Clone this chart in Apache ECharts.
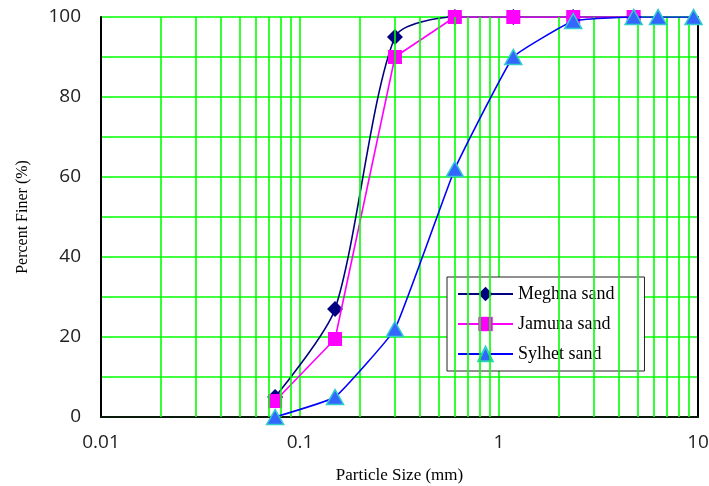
<!DOCTYPE html>
<html>
<head>
<meta charset="utf-8">
<script src="https://cdn.jsdelivr.net/npm/echarts@6/dist/echarts.min.js"></script>
<style>
html,body{margin:0;padding:0;background:#fff;}
#chart{width:709px;height:486px;}
</style>
</head>
<body>
<div id="chart"></div>
<script>
// Sieve sizes (mm) and percent finer
const sieveSizes = [0.075, 0.15, 0.3, 0.6, 1.18, 2.36, 4.75];
const meghna = [5, 27, 95, 100, 100, 100, 100];
const jamuna = [4, 19.5, 90, 100, 100, 100, 100];
const sylhetSizes = [0.075, 0.15, 0.3, 0.6, 1.18, 2.36, 4.75, 6.3, 9.5];
const sylhet = [0, 5, 22, 62, 90, 99, 100, 100, 100];
const seriesNames = ['Meghna sand', 'Jamuna sand', 'Sylhet sand'];
const xTickLabels = ['0.01', '0.1', '1', '10'];
const yTickLabels = ['0', '20', '40', '60', '80', '100'];
const minorMultipliers = [2, 3, 4, 5, 6, 7, 8, 9];
const decades = [0.01, 0.1, 1];

const pair = (xs, ys) => xs.map((x, i) => [x, ys[i]]);
const minorLines = [];
decades.forEach(d => minorMultipliers.forEach(m => minorLines.push({ xAxis: +(d * m).toPrecision(6) })));

const chart = echarts.init(document.getElementById('chart'), null, { renderer: 'canvas' });
const green = '#00FF00';
chart.setOption({
  animation: false,
  backgroundColor: '#ffffff',
  grid: { left: 101, right: 11, top: 17, bottom: 69, containLabel: false, outerBoundsMode: 'none' },
  legend: {
    data: seriesNames,
    orient: 'vertical',
    left: 447,
    top: 277,
    padding: [8, 30, 8, 10],
    itemWidth: 55,
    itemHeight: 18,
    itemGap: 12,
    backgroundColor: '#ffffff',
    borderColor: '#222',
    borderWidth: 1,
    textStyle: { fontFamily: 'Liberation Serif', fontSize: 18, color: '#000' }
  },
  xAxis: {
    type: 'log',
    logBase: 10,
    min: 0.01,
    max: 10,
    name: 'Particle Size (mm)',
    nameLocation: 'middle',
    nameGap: 50,
    nameTextStyle: { fontFamily: 'Liberation Serif', fontSize: 17, color: '#000' },
    axisLine: { show: true, onZero: false, lineStyle: { color: '#0a1a0a', width: 2 } },
    axisTick: { show: false },
    axisLabel: {
      margin: 16,
      fontFamily: 'Open Sans',
      fontSize: 19,
      color: '#222',
      showMinLabel: true,
      showMaxLabel: true,
      formatter: v => {
        const idx = Math.round(Math.log10(v) + 2);
        return xTickLabels[idx] !== undefined ? xTickLabels[idx] : '';
      }
    },
    splitLine: { show: true, lineStyle: { color: green, width: 1.6 } }
  },
  yAxis: [{
    type: 'value',
    min: 0,
    max: 100,
    interval: 10,
    name: 'Percent Finer (%)',
    nameLocation: 'middle',
    nameGap: 70,
    nameTextStyle: { fontFamily: 'Liberation Serif', fontSize: 16, color: '#000' },
    axisLine: { show: true, lineStyle: { color: '#000', width: 2 } },
    axisTick: { show: false },
    axisLabel: {
      margin: 20,
      fontFamily: 'Open Sans',
      fontSize: 19,
      color: '#222',
      formatter: v => (yTickLabels.indexOf(String(v)) >= 0 ? String(v) : '')
    },
    splitLine: { show: true, lineStyle: { color: green, width: 1.6 } }
  }, {
    type: 'value',
    position: 'right',
    min: 0,
    max: 100,
    axisLine: { show: true, lineStyle: { color: '#000', width: 2 } },
    axisTick: { show: false },
    axisLabel: { show: false },
    splitLine: { show: false }
  }],
  series: [
    {
      name: 'gridMinor',
      type: 'line',
      z: 1,
      data: [[0.01, 0]],
      showSymbol: false,
      silent: true,
      lineStyle: { opacity: 0 },
      markLine: {
        silent: true,
        symbol: ['none', 'none'],
        label: { show: false },
        lineStyle: { color: green, width: 1.6, type: 'solid' },
        data: minorLines
      }
    },
    {
      name: seriesNames[0],
      type: 'line',
      z: 3,
      data: pair(sieveSizes, meghna),
      smooth: 0.25,
      symbol: 'diamond',
      symbolSize: 16,
      itemStyle: { color: '#000080' },
      lineStyle: { color: '#000080', width: 1.6 }
    },
    {
      name: seriesNames[1],
      type: 'line',
      z: 4,
      data: pair(sieveSizes, jamuna),
      smooth: false,
      symbol: 'rect',
      symbolSize: 14,
      itemStyle: { color: '#FF00FF' },
      lineStyle: { color: '#FF00FF', width: 1.6 }
    },
    {
      name: seriesNames[2],
      type: 'line',
      z: 5,
      data: pair(sylhetSizes, sylhet),
      smooth: 0.1,
      symbol: 'triangle',
      symbolSize: [17, 15],
      itemStyle: { color: '#3366FF', borderColor: '#33CCCC', borderWidth: 1.5 },
      lineStyle: { color: '#0000FF', width: 1.6 }
    }
  ]
});
</script>
</body>
</html>
